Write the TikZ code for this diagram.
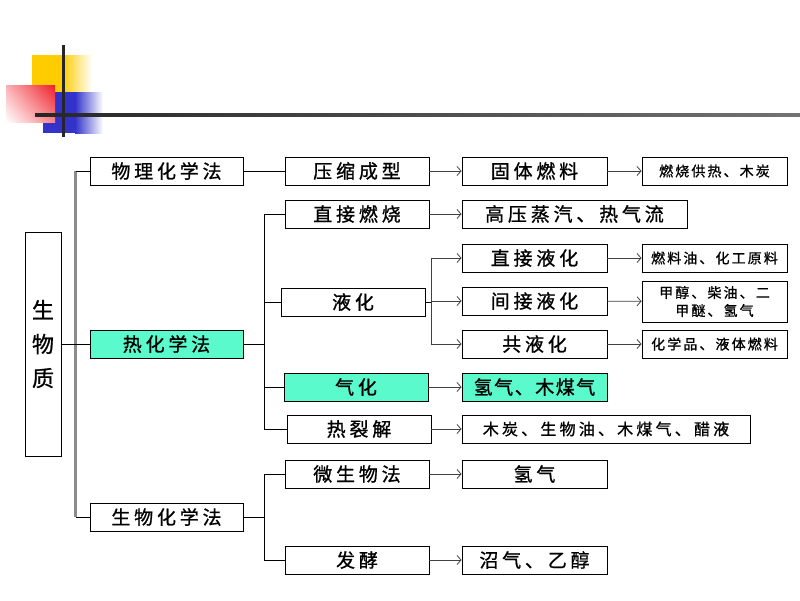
\documentclass[tikz,border=0pt]{standalone}
\usepackage{fontspec}
\setmainfont{Noto Sans CJK SC}[FakeBold=1]
\usetikzlibrary{arrows.meta,shadings}
\definecolor{mint}{RGB}{90,250,205}
\definecolor{decoyellow}{RGB}{255,204,0}
\definecolor{decoblue}{RGB}{51,51,204}
\definecolor{decored}{RGB}{240,30,40}
\begin{document}
\begin{tikzpicture}[x=1pt,y=-1pt,
	box/.style={draw, line width=0.9pt, minimum height=28pt, inner sep=0pt,
		font=\fontsize{19}{21}\selectfont\addfontfeature{LetterSpace=20}},
	small/.style={box, font=\fontsize{14}{17}\selectfont\addfontfeature{LetterSpace=15}},
	arr/.style={draw=black!75, line width=0.8pt, -{Straight Barb[length=4pt,width=9pt]}},
	link/.style={draw=black, line width=0.8pt},
	trunk/.style={draw=black!45, line width=2.2pt}
	]
	\useasboundingbox (0,0) rectangle (800,600);
	% corner decoration
	\fill[decoyellow] (32,55) rectangle (62,92);
	\shade[left color=decoyellow, right color=white] (62,55) rectangle (92,92);
	\fill[decoblue] (43,92) rectangle (75,133);
	\shade[left color=decoblue, right color=white] (75,92) rectangle (103,133);
	\shade[upper right=decored, upper left=decored!35, lower right=decored!55, lower left=white] (6,85) rectangle (55,122);
	\fill[black!85] (61.5,45) rectangle (64.5,137);
	\shade[left color=black!85, right color=black!55] (35,113.5) rectangle (800,116.5);
	% root
	\node[box, minimum width=36pt, minimum height=224pt, align=center,
		font=\fontsize{22}{34}\selectfont] (bio) at (43,344) {生\\物\\质};
	% methods
	\node[box, minimum width=153pt] (wl) at (166.5,171) {物理化学法};
	\node[box, minimum width=153pt, fill=mint] (rh) at (166.5,344) {热化学法};
	\node[box, minimum width=153pt] (sw) at (166.5,517) {生物化学法};
	% processes
	\node[box, minimum width=144pt] (ys) at (357,171) {压缩成型};
	\node[box, minimum width=144pt] (zr) at (357,214) {直接燃烧};
	\node[box, minimum width=144pt] (yh) at (353,302) {液化};
	\node[box, minimum width=144pt, fill=mint] (qh) at (356,387) {气化};
	\node[box, minimum width=144pt] (rl) at (359,429) {热裂解};
	\node[box, minimum width=144pt] (ws) at (357,474) {微生物法};
	\node[box, minimum width=144pt] (fj) at (357,560) {发酵};
	% products
	\node[box, minimum width=145pt] (gt) at (534.5,171) {固体燃料};
	\node[box, minimum width=225pt] (gy) at (574.5,214) {高压蒸汽、热气流};
	\node[box, minimum width=145pt] (zy) at (534.5,258) {直接液化};
	\node[box, minimum width=145pt] (jy) at (534.5,301) {间接液化};
	\node[box, minimum width=145pt] (gh) at (534.5,344) {共液化};
	\node[box, minimum width=145pt, fill=mint,
		font=\fontsize{19}{21}\selectfont\addfontfeature{LetterSpace=8}] (qm) at (534.5,387) {氢气、木煤气};
	\node[box, minimum width=288pt,
		font=\fontsize{16}{19}\selectfont\addfontfeature{LetterSpace=20}] (mt) at (606,429) {木炭、生物油、木煤气、醋液};
	\node[box, minimum width=145pt] (qq) at (534.5,474) {氢气};
	\node[box, minimum width=145pt] (zq) at (534.5,560) {沼气、乙醇};
	% end uses
	\node[small, minimum width=145pt] (rs) at (714.5,171) {燃烧供热、木炭};
	\node[small, minimum width=145pt] (ry) at (714.5,258) {燃料油、化工原料};
	\node[small, minimum width=145pt, minimum height=41pt, align=center,
		font=\fontsize{14}{18}\selectfont\addfontfeature{LetterSpace=15}] (jc) at (714.5,301.5) {甲醇、柴油、二\\甲醚、氢气};
	\node[small, minimum width=145pt] (hx) at (714.5,344) {化学品、液体燃料};
	% root to methods
	\draw[trunk] (wl.west) ++(-14,0) coordinate (t1) -- (t1 |- sw.west);
	\draw[link] (wl.west) -- (t1);
	\draw[link] (sw.west) -- (t1 |- sw.west);
	\draw[link] (bio) -- (rh);
	% methods to processes
	\draw[link] (wl) -- (ys);
	\draw[link] (rh.east) -- ++(21,0) coordinate (t2);
	\draw[link] (zr.west) -| (t2) |- (rl.west);
	\draw[link] (yh.west) -- (yh.west -| t2);
	\draw[link] (qh.west) -- (qh.west -| t2);
	\draw[link] (sw.east) -- ++(21,0) coordinate (t3);
	\draw[link] (ws.west) -| (t3) |- (fj.west);
	% processes to products
	\draw[arr] (ys) -- (gt);
	\draw[arr] (zr) -- (gy);
	\draw[link] (yh.east) -- ++(6,0) coordinate (t4);
	\draw[arr] (t4 |- zy.west) -- (zy);
	\draw[arr] (t4) -- (t4 |- jy.west) -- (jy);
	\draw[arr] (t4 |- zy.west) -- (t4 |- gh.west) -- (gh);
	\draw[arr] (qh) -- (qm);
	\draw[arr] (rl) -- (rl.east -| mt.west);
	\draw[arr] (ws) -- (qq);
	\draw[arr] (fj) -- (zq);
	% products to end uses
	\draw[arr] (gt) -- (rs);
	\draw[arr] (zy) -- (ry);
	\draw[arr] (jy) -- (jc);
	\draw[arr] (gh) -- (hx);
\end{tikzpicture}
\end{document}
